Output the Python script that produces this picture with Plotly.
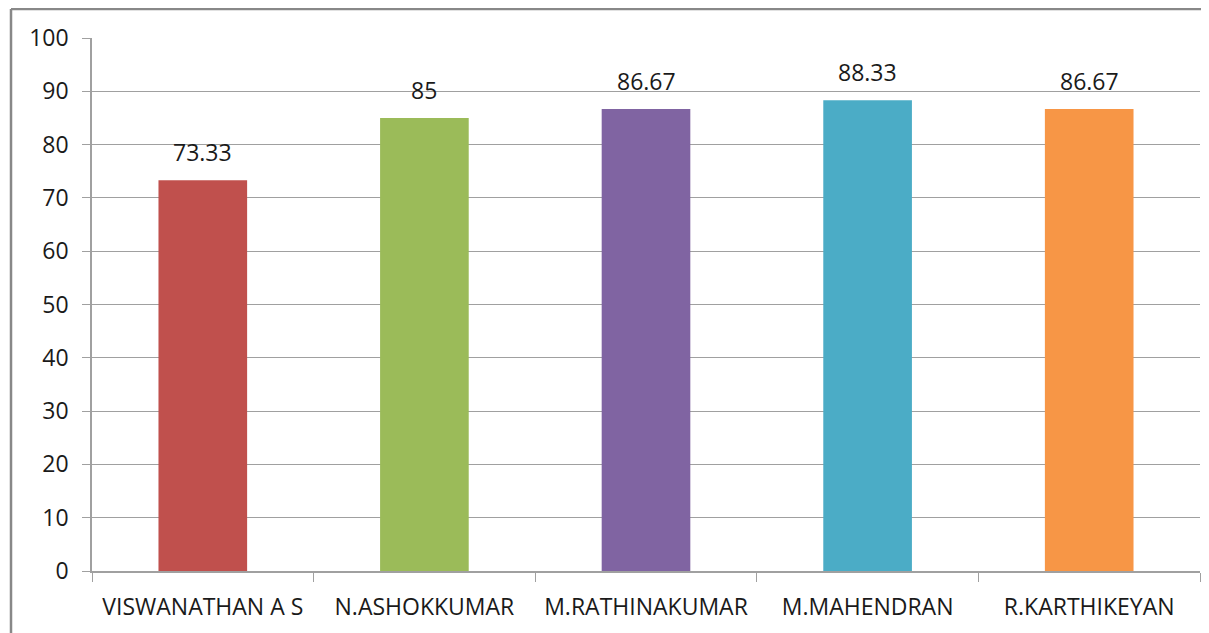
import plotly.graph_objects as go

categories = ["VISWANATHAN A S", "N.ASHOKKUMAR", "M.RATHINAKUMAR", "M.MAHENDRAN", "R.KARTHIKEYAN"]
values = [73.33, 85, 86.67, 88.33, 86.67]
labels = ["73.33", "85", "86.67", "88.33", "86.67"]
colors = ["#C0504D", "#9BBB59", "#8064A2", "#4BACC6", "#F79646"]

font_family = "Open Sans, Liberation Sans, sans-serif"
grid = "#a0a0a0"

fig = go.Figure(go.Bar(
    x=categories, y=values, marker_color=colors, marker_line_width=0,
    width=0.4, hoverinfo="x+y",
))

for c, v, t in zip(categories, values, labels):
    fig.add_annotation(x=c, y=v, text=t, showarrow=False, yanchor="bottom",
                       yshift=10, font=dict(size=23, color="#1a1a1a", family=font_family))

# page has an 8px body margin, so the figure is sized to the visible area
W, H = 1201, 625
L, R, T, B = 84, 9, 30, 62
pw, ph = W - L - R, H - T - B

fig.update_layout(
    width=W, height=H,
    margin=dict(l=L, r=R, t=T, b=B),
    plot_bgcolor="white", paper_bgcolor="white",
    showlegend=False,
    font=dict(family=font_family, size=23, color="#1a1a1a"),
    xaxis=dict(showgrid=False, showline=True, linecolor=grid, linewidth=1.5,
               ticks="outside", tickson="boundaries", ticklen=9, tickcolor=grid,
               tickfont=dict(size=23), ticklabelstandoff=15, fixedrange=True),
    yaxis=dict(range=[0, 100], dtick=10, showgrid=True, gridcolor=grid, gridwidth=1.2,
               showline=True, linecolor=grid, linewidth=1.5, zeroline=False,
               ticks="outside", ticklen=8, tickcolor=grid,
               tickfont=dict(size=23), ticklabelstandoff=9, fixedrange=True),
    shapes=[
        dict(type="line", xref="paper", yref="paper",
             x0=(3 - L) / pw, x1=(3 - L) / pw, y0=-0.3, y1=(H - B - 1) / ph,
             line=dict(color="#888", width=2.5)),
        dict(type="line", xref="paper", yref="paper",
             x0=(3 - L) / pw, x1=1.1, y0=(H - B - 1) / ph, y1=(H - B - 1) / ph,
             line=dict(color="#888", width=2.5)),
    ],
)

fig.write_html("out.html")
